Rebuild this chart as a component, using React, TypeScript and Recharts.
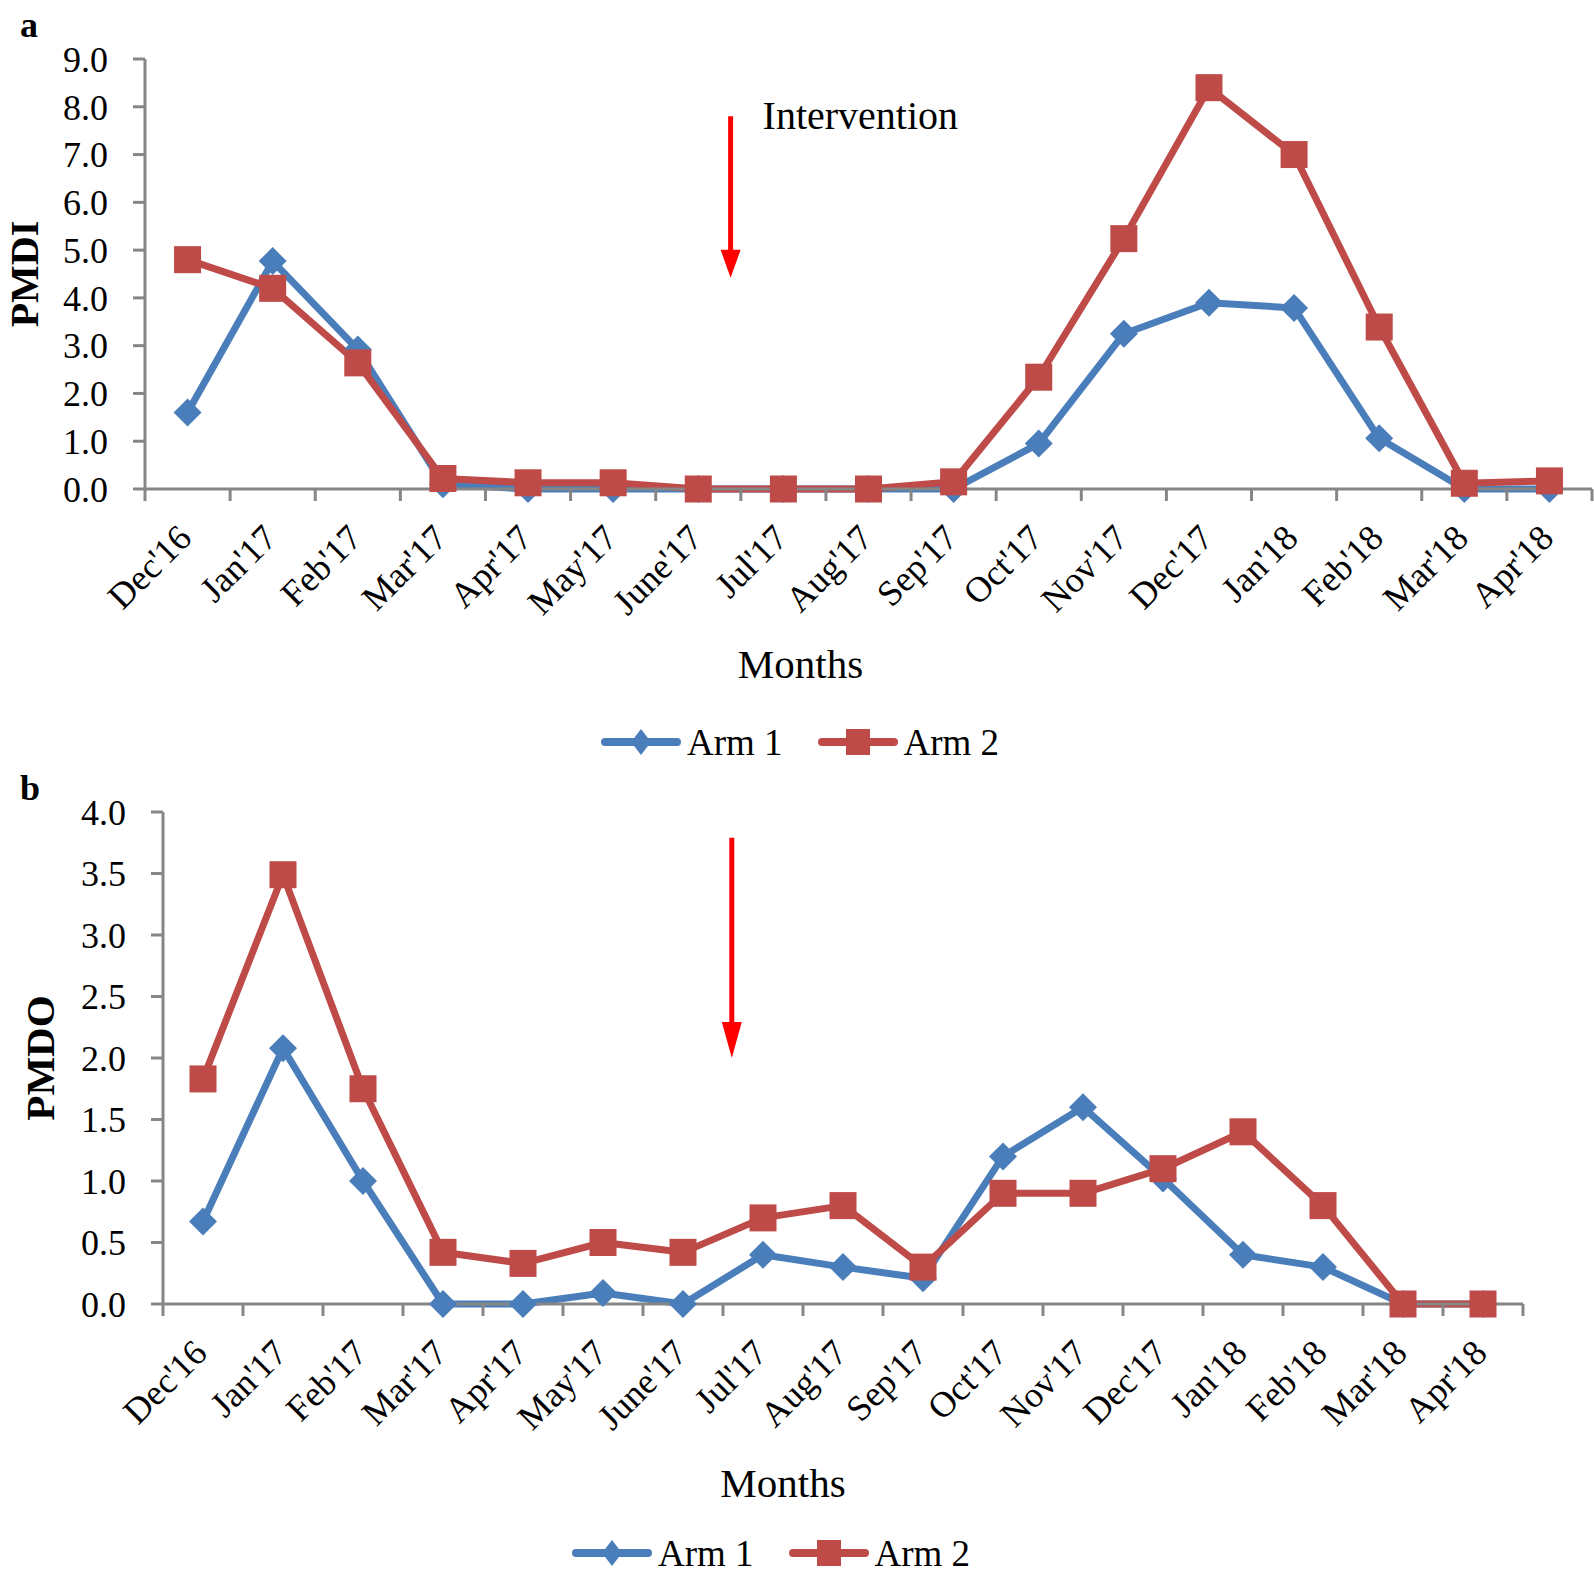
import React from "react";
import { LineChart, Line, XAxis, YAxis, ReferenceLine, Legend, Label } from "recharts";

// months on the x axis (same for both panels)
const months = [
  "Dec'16", "Jan'17", "Feb'17", "Mar'17", "Apr'17", "May'17", "June'17", "Jul'17", "Aug'17",
  "Sep'17", "Oct'17", "Nov'17", "Dec'17", "Jan'18", "Feb'18", "Mar'18", "Apr'18",
];

// panel a - PMDI
const pmdiArm1 = [1.6, 4.77, 2.92, 0.1, 0.0, 0.0, 0.0, 0.0, 0.0, 0.0, 0.95, 3.25, 3.9, 3.79, 1.06, 0.0, 0.0];
const pmdiArm2 = [4.8, 4.2, 2.64, 0.22, 0.13, 0.13, 0.0, 0.0, 0.0, 0.15, 2.34, 5.24, 8.4, 7.0, 3.39, 0.12, 0.17];
const pmdiTicks = [0, 1, 2, 3, 4, 5, 6, 7, 8, 9];

// panel b - PMDO
const pmdoArm1 = [0.67, 2.08, 1.0, 0.0, 0.0, 0.09, 0.0, 0.4, 0.3, 0.21, 1.2, 1.6, 1.02, 0.4, 0.3, 0.0, 0.0];
const pmdoArm2 = [1.83, 3.49, 1.75, 0.42, 0.33, 0.5, 0.42, 0.7, 0.8, 0.3, 0.9, 0.9, 1.1, 1.4, 0.8, 0.0, 0.0];
const pmdoTicks = [0, 0.5, 1, 1.5, 2, 2.5, 3, 3.5, 4];

// intervention arrows, in data units
const arrowA = { x: 6.88, top: 7.8, tip: 4.42 };
const arrowB = { x: 7.11, top: 3.79, tip: 2.0 };

const BLUE = "#4A7EBB";
const RED = "#BE4B48";
const AXIS = "#868686";
const FONT = "'Liberation Serif', 'Times New Roman', serif";

// category boundaries at integers, category centres at .5
const xTicks: number[] = [];
for (let i = 0; i <= months.length * 2; i++) xTicks.push(i / 2);

const toRows = (a: number[], b: number[]) =>
  months.map((m, i) => ({ month: m, x: i + 0.5, arm1: a[i], arm2: b[i] }));

const dataA = toRows(pmdiArm1, pmdiArm2);
const dataB = toRows(pmdoArm1, pmdoArm2);

const diamond = (p: any) => {
  const { cx, cy, index } = p;
  if (cx == null || cy == null) return <g key={index} />;
  const r = 14;
  return (
    <polygon
      key={index}
      points={`${cx},${cy - r} ${cx + r},${cy} ${cx},${cy + r} ${cx - r},${cy}`}
      fill={BLUE}
    />
  );
};

const square = (p: any) => {
  const { cx, cy, index } = p;
  if (cx == null || cy == null) return <g key={index} />;
  const s = 27;
  return <rect key={index} x={cx - s / 2} y={cy - s / 2} width={s} height={s} fill={RED} />;
};

const monthTick = (p: any) => {
  const { x, y, payload } = p;
  const v = payload.value;
  if (Number.isInteger(v)) {
    return <line x1={x} y1={y} x2={x} y2={y + 12} stroke={AXIS} strokeWidth={3} />;
  }
  const tx = x + 6;
  const ty = y + 51;
  return (
    <text
      x={tx}
      y={ty}
      transform={`rotate(-45 ${tx} ${ty})`}
      textAnchor="end"
      fontFamily={FONT}
      fontSize={36}
      fill="#000"
    >
      {months[Math.floor(v)]}
    </text>
  );
};

const arrowShape = (head: number, text?: string) => (p: any) => {
  const { x1, y1, y2 } = p;
  return (
    <g>
      <line x1={x1} y1={y1} x2={x1} y2={y2 - head + 2} stroke="#FF0000" strokeWidth={5} />
      <polygon points={`${x1 - 10},${y2 - head} ${x1 + 10},${y2 - head} ${x1},${y2}`} fill="#FF0000" />
      {text && (
        <text x={x1 + 32} y={y1 + 13} fontFamily={FONT} fontSize={40} fill="#000">
          {text}
        </text>
      )}
    </g>
  );
};

const LegendIcon = ({ kind }: { kind: "diamond" | "square" }) => (
  <svg width={80} height={30} style={{ display: "block" }}>
    <line
      x1={4}
      y1={15}
      x2={76}
      y2={15}
      stroke={kind === "diamond" ? BLUE : RED}
      strokeWidth={8}
      strokeLinecap="round"
    />
    {kind === "diamond" ? (
      <polygon points="40,2 50,15 40,28 30,15" fill={BLUE} />
    ) : (
      <rect x={28} y={2} width={24} height={26} fill={RED} />
    )}
  </svg>
);

const legendContent = () => (
  <div
    style={{
      display: "flex",
      justifyContent: "center",
      alignItems: "center",
      height: 40,
      fontFamily: FONT,
      fontSize: 37,
      color: "#000",
    }}
  >
    <LegendIcon kind="diamond" />
    <span style={{ marginLeft: 6, marginRight: 35 }}>Arm 1</span>
    <LegendIcon kind="square" />
    <span style={{ marginLeft: 6 }}>Arm 2</span>
  </div>
);

const axisTitle = (text: string, dx: number, offset: number) => (p: any) => {
  const vb = p.viewBox;
  return (
    <text
      x={vb.x + vb.width / 2 + dx}
      y={vb.y + vb.height + offset}
      textAnchor="middle"
      fontFamily={FONT}
      fontSize={41}
      fill="#000"
    >
      {text}
    </text>
  );
};

const panelLabel = (top: number): React.CSSProperties => ({
  position: "absolute",
  left: 20,
  top,
  fontFamily: FONT,
  fontWeight: "bold",
  fontSize: 36,
  lineHeight: "36px",
});

export default function App() {
  return (
    <div style={{ position: "absolute", left: 0, top: 0, width: 1594, height: 1578, background: "#fff" }}>
      <div style={panelLabel(7)}>a</div>
      <div style={{ position: "absolute", left: 0, top: 0 }}>
        <LineChart width={1594} height={780} data={dataA} margin={{ top: 59, right: 2, bottom: 151, left: 0 }}>
          <XAxis
            type="number"
            dataKey="x"
            domain={[0, 17]}
            ticks={xTicks}
            interval={0}
            height={140}
            tickLine={false}
            tickSize={0}
            tickMargin={0}
            axisLine={{ stroke: AXIS, strokeWidth: 3 }}
            tick={monthTick}
          >
            <Label content={axisTitle("Months", -68, 49)} />
          </XAxis>
          <YAxis
            type="number"
            domain={[0, 9]}
            ticks={pmdiTicks}
            interval={0}
            width={145}
            tickSize={12}
            tickMargin={25}
            tickFormatter={(v: number) => v.toFixed(1)}
            axisLine={{ stroke: AXIS, strokeWidth: 3 }}
            tickLine={{ stroke: AXIS, strokeWidth: 3 }}
            tick={{ fontFamily: FONT, fontSize: 36, fill: "#000" }}
          >
            <Label
              value="PMDI"
              angle={-90}
              position="insideLeft"
              offset={24}
              style={{ textAnchor: "middle", fontFamily: FONT, fontWeight: "bold", fontSize: 40, fill: "#000" }}
            />
          </YAxis>
          <ReferenceLine
            segment={[{ x: arrowA.x, y: arrowA.top }, { x: arrowA.x, y: arrowA.tip }]}
            shape={arrowShape(28, "Intervention")}
          />
          <Line
            type="linear"
            dataKey="arm1"
            name="Arm 1"
            stroke={BLUE}
            strokeWidth={7}
            strokeLinejoin="round"
            dot={diamond}
            activeDot={false}
            isAnimationActive={false}
          />
          <Line
            type="linear"
            dataKey="arm2"
            name="Arm 2"
            stroke={RED}
            strokeWidth={7}
            strokeLinejoin="round"
            dot={square}
            activeDot={false}
            isAnimationActive={false}
          />
          <Legend
            layout="horizontal"
            verticalAlign="middle"
            align="center"
            content={legendContent}
            wrapperStyle={{ left: 0, top: 722, width: 1600 }}
          />
        </LineChart>
      </div>

      <div style={panelLabel(770)}>b</div>
      <div style={{ position: "absolute", left: 0, top: 760 }}>
        <LineChart width={1594} height={818} data={dataB} margin={{ top: 52, right: 71, bottom: 134, left: 0 }}>
          <XAxis
            type="number"
            dataKey="x"
            domain={[0, 17]}
            ticks={xTicks}
            interval={0}
            height={140}
            tickLine={false}
            tickSize={0}
            tickMargin={0}
            axisLine={{ stroke: AXIS, strokeWidth: 3 }}
            tick={monthTick}
          >
            <Label content={axisTitle("Months", -60, 53)} />
          </XAxis>
          <YAxis
            type="number"
            domain={[0, 4]}
            ticks={pmdoTicks}
            interval={0}
            width={163}
            tickSize={12}
            tickMargin={25}
            tickFormatter={(v: number) => v.toFixed(1)}
            axisLine={{ stroke: AXIS, strokeWidth: 3 }}
            tickLine={{ stroke: AXIS, strokeWidth: 3 }}
            tick={{ fontFamily: FONT, fontSize: 36, fill: "#000" }}
          >
            <Label
              value="PMDO"
              angle={-90}
              position="insideLeft"
              offset={39}
              style={{ textAnchor: "middle", fontFamily: FONT, fontWeight: "bold", fontSize: 41, fill: "#000" }}
            />
          </YAxis>
          <ReferenceLine
            segment={[{ x: arrowB.x, y: arrowB.top }, { x: arrowB.x, y: arrowB.tip }]}
            shape={arrowShape(36)}
          />
          <Line
            type="linear"
            dataKey="arm1"
            name="Arm 1"
            stroke={BLUE}
            strokeWidth={7}
            strokeLinejoin="round"
            dot={diamond}
            activeDot={false}
            isAnimationActive={false}
          />
          <Line
            type="linear"
            dataKey="arm2"
            name="Arm 2"
            stroke={RED}
            strokeWidth={7}
            strokeLinejoin="round"
            dot={square}
            activeDot={false}
            isAnimationActive={false}
          />
          <Legend
            layout="horizontal"
            verticalAlign="middle"
            align="center"
            content={legendContent}
            wrapperStyle={{ left: 0, top: 773, width: 1542 }}
          />
        </LineChart>
      </div>
    </div>
  );
}
